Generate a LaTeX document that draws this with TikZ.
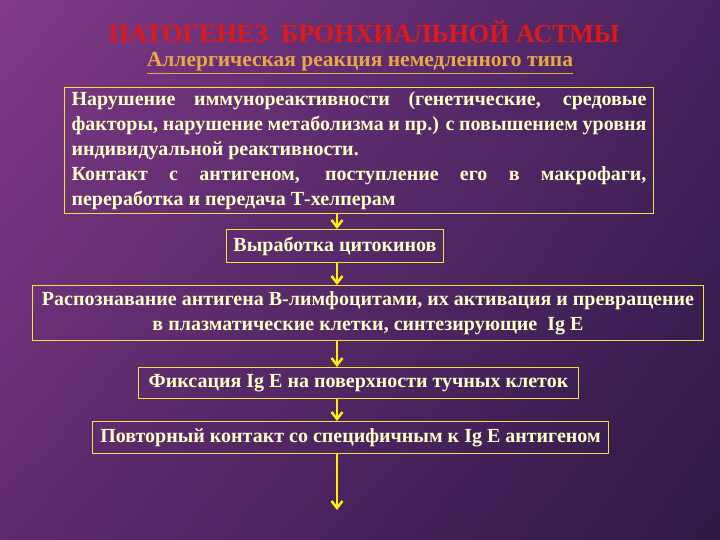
\documentclass[tikz,border=0pt]{standalone}
\usepackage{fontspec}
\setmainfont{Liberation Serif}
\usetikzlibrary{arrows.meta,shadings}
\definecolor{txt}{HTML}{FFFFC8}
\definecolor{brd}{HTML}{F0E040}
\definecolor{ttl}{HTML}{E01818}
\definecolor{sub}{HTML}{E8A848}
\definecolor{arc}{HTML}{FFF000}
\definecolor{bgul}{HTML}{803A87}
\definecolor{bgur}{HTML}{46235F}
\definecolor{bgll}{HTML}{5F2A6E}
\definecolor{bglr}{HTML}{2D1946}
\begin{document}
\begin{tikzpicture}[x=1pt,y=-1pt,
  box/.style={draw=brd,line width=1pt,text=txt,font=\bfseries\fontsize{20}{25}\selectfont,inner sep=2pt},
  arr/.style={draw=arc,line width=2pt,-{Straight Barb[length=7pt,width=11pt,line width=2.5pt]}}]
\shade[upper left=bgul,upper right=bgur,lower left=bgll,lower right=bglr] (0,0) rectangle (720,540);
\useasboundingbox (0,0) rectangle (720,540);
\node[text=ttl,font=\bfseries\fontsize{26}{28}\selectfont] (t) at (364,32) {ПАТОГЕНЕЗ\ \ БРОНХИАЛЬНОЙ АСТМЫ};
\node[text=sub,font=\bfseries\fontsize{21.5}{24}\selectfont] (s) at (360,63) {\underline{Аллергическая реакция немедленного типа}};
\node[box,anchor=north west,minimum width=589pt,minimum height=126pt,text width=575pt,align=justify] (b1) at (64,87)
 {Нарушение иммунореактивности (генетические, средовые факторы, нарушение метаболизма и пр.) с повышением уровня индивидуальной реактивности.\\ Контакт с антигеном, поступление его в макрофаги, переработка и передача Т-хелперам};
\node[box,anchor=north west,minimum width=217pt,minimum height=33pt] (b2) at (226,229) {Выработка цитокинов};
\node[box,anchor=north west,minimum width=671pt,minimum height=55pt,align=center] (b3) at (32,285)
 {Распознавание антигена В-лимфоцитами, их активация и превращение\\в плазматические клетки, синтезирующие\ \ Ig E};
\node[box,anchor=north west,minimum width=440pt,minimum height=31pt] (b4) at (138,367) {Фиксация Ig E на поверхности тучных клеток};
\node[box,anchor=north west,minimum width=516pt,minimum height=32pt] (b5) at (92,421) {Повторный контакт со специфичным к Ig E антигеном};
\coordinate (e) at (337,510);
\draw[arr] (b1.south -| e) -- (b2.north -| e);
\draw[arr] (b2.south -| e) -- (b3.north -| e);
\draw[arr] (b3.south -| e) -- (b4.north -| e);
\draw[arr] (b4.south -| e) -- (b5.north -| e);
\draw[arr] (b5.south -| e) -- (e);
\end{tikzpicture}
\end{document}
